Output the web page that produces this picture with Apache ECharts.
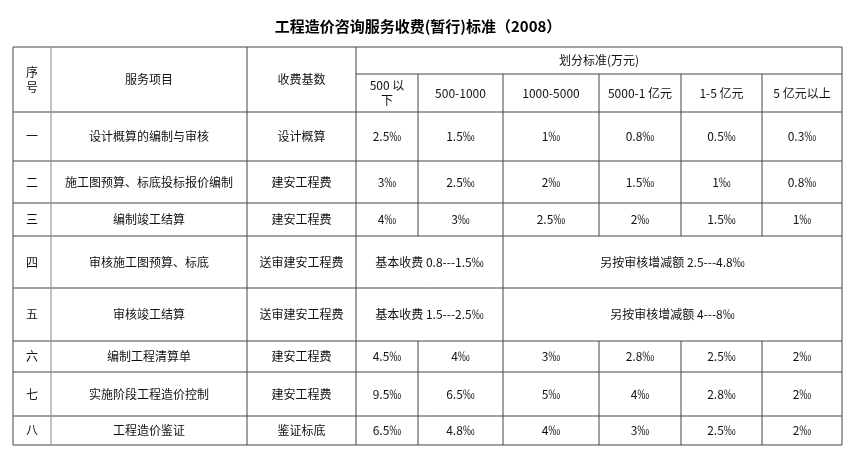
<!DOCTYPE html>
<html>
<head>
<meta charset="utf-8">
<script src="https://cdn.jsdelivr.net/npm/echarts@6/dist/echarts.min.js"></script>
<style>html,body{margin:0;padding:0;background:#fff}#main{width:853px;height:457px}</style>
</head>
<body>
<div id="main"></div>
<script>
const title = "工程造价咨询服务收费(暂行)标准（2008）";
const headers = ["序\n号", "服务项目", "收费基数"];
const groupHeader = "划分标准(万元)";
const ranges = ["500 以\n下", "500-1000", "1000-5000", "5000-1 亿元", "1-5 亿元", "5 亿元以上"];
const seqs = ["一", "二", "三", "四", "五", "六", "七", "八"];
const items = ["设计概算的编制与审核", "施工图预算、标底投标报价编制", "编制竣工结算", "审核施工图预算、标底",
  "审核竣工结算", "编制工程清算单", "实施阶段工程造价控制", "工程造价鉴证"];
const bases = ["设计概算", "建安工程费", "建安工程费", "送审建安工程费", "送审建安工程费", "建安工程费", "建安工程费", "鉴证标底"];
const rates = [
  ["2.5‰", "1.5‰", "1‰", "0.8‰", "0.5‰", "0.3‰"],
  ["3‰", "2.5‰", "2‰", "1.5‰", "1‰", "0.8‰"],
  ["4‰", "3‰", "2.5‰", "2‰", "1.5‰", "1‰"],
  ["基本收费 0.8---1.5‰", "另按审核增减额 2.5---4.8‰"],
  ["基本收费 1.5---2.5‰", "另按审核增减额 4---8‰"],
  ["4.5‰", "4‰", "3‰", "2.8‰", "2.5‰", "2‰"],
  ["9.5‰", "6.5‰", "5‰", "4‰", "2.8‰", "2‰"],
  ["6.5‰", "4.8‰", "4‰", "3‰", "2.5‰", "2‰"]
];

// layout
const xs = [13, 51, 247, 356, 418, 503, 599, 681, 762, 842];
const ys = [47, 112, 161, 203, 236, 288, 341, 372, 416, 445];
const subY = 74;
const font = '"Noto Sans CJK SC", sans-serif';
const g = [];
function line(x1, y1, x2, y2, c) {
  g.push({type: "line", shape: {x1, y1, x2, y2}, style: {stroke: c || "#444", lineWidth: 1}});
}
function text(s, x, y, opt) {
  g.push({type: "text", x, y, style: Object.assign({text: s, font: "12px " + font, fill: "#111",
    align: "center", verticalAlign: "middle", lineHeight: 15}, opt || {})});
}
g.push({type: "text", x: 418, y: 26, style: {text: title, font: "bold 15px " + font, fill: "#000", align: "center", verticalAlign: "middle"}});

// horizontal lines
ys.forEach(y => line(xs[0], y, xs[9], y));
line(xs[3], subY, xs[9], subY);
// vertical lines (rows 四/五 have merged rate cells)
xs.forEach((x, i) => {
  if (i <= 3 || i === 9) { line(x, ys[0], x, ys[9], i === 1 ? "#888" : "#444"); return; }
  line(x, subY, x, ys[4]);
  line(x, ys[6], x, ys[9]);
  if (i === 5) line(x, ys[4], x, ys[6]);
});

// header
const hy = (ys[0] + ys[1]) / 2;
headers.forEach((h, i) => text(h, (xs[i] + xs[i + 1]) / 2, hy));
text(groupHeader, (xs[3] + xs[9]) / 2, (ys[0] + subY) / 2);
ranges.forEach((r, i) => text(r, (xs[i + 3] + xs[i + 4]) / 2, (subY + ys[1]) / 2));

// body
seqs.forEach((s, r) => {
  const cy = (ys[r + 1] + ys[r + 2]) / 2;
  text(s, (xs[0] + xs[1]) / 2, cy);
  text(items[r], (xs[1] + xs[2]) / 2, cy);
  text(bases[r], (xs[2] + xs[3]) / 2, cy);
  const row = rates[r];
  if (row.length === 2) {
    text(row[0], (xs[3] + xs[5]) / 2, cy);
    text(row[1], (xs[5] + xs[9]) / 2, cy);
  } else {
    row.forEach((v, c) => text(v, (xs[c + 3] + xs[c + 4]) / 2, cy));
  }
});

const chart = echarts.init(document.getElementById("main"));
chart.setOption({animation: false, backgroundColor: "#fff", graphic: {elements: g}});
</script>
</body>
</html>
